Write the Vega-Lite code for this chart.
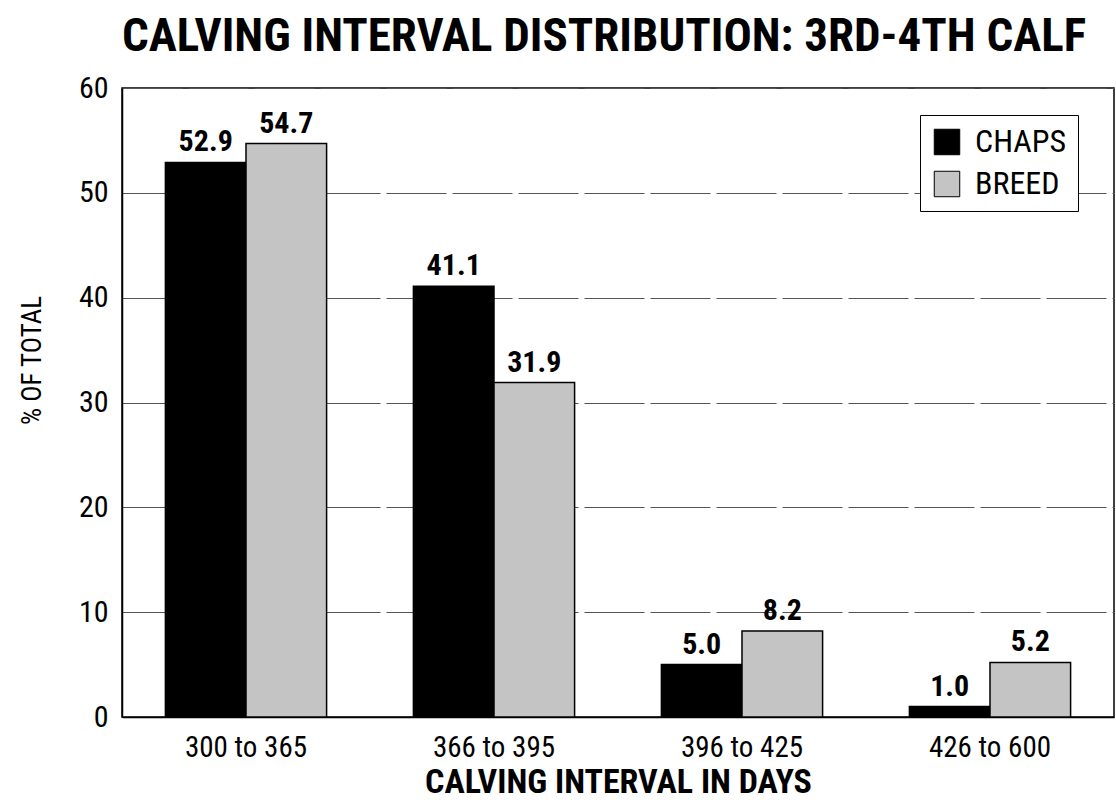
{
  "$schema": "https://vega.github.io/schema/vega-lite/v6.json",
  "autosize": "none",
  "width": 992,
  "height": 629,
  "padding": {"left": 122, "top": 88, "right": 2, "bottom": 91},
  "background": "white",
  "config": {
    "font": "Liberation Sans Narrow, Roboto Condensed, Liberation Sans, Arial",
    "view": {"stroke": "black", "strokeWidth": 1.5}
  },
  "title": {
    "text": "CALVING INTERVAL DISTRIBUTION:  3RD-4TH CALF",
    "fontSize": 47,
    "fontWeight": "bold",
    "color": "black",
    "anchor": "middle",
    "frame": "group",
    "offset": 12,
    "dx": -14
  },
  "data": {
    "values": [
      {"interval": "300 to 365", "group": "CHAPS", "pct": 52.9},
      {"interval": "300 to 365", "group": "BREED", "pct": 54.7},
      {"interval": "366 to 395", "group": "CHAPS", "pct": 41.1},
      {"interval": "366 to 395", "group": "BREED", "pct": 31.9},
      {"interval": "396 to 425", "group": "CHAPS", "pct": 5.0},
      {"interval": "396 to 425", "group": "BREED", "pct": 8.2},
      {"interval": "426 to 600", "group": "CHAPS", "pct": 1.0},
      {"interval": "426 to 600", "group": "BREED", "pct": 5.2}
    ]
  },
  "encoding": {
    "x": {
      "field": "interval",
      "type": "nominal",
      "sort": null,
      "scale": {"paddingInner": 0.35, "paddingOuter": 0.175},
      "axis": {
        "title": "CALVING INTERVAL IN DAYS",
        "titleFontSize": 34,
        "titleFontWeight": "bold",
        "titleColor": "black",
        "titlePadding": 3,
        "labelAngle": 0,
        "labelFontSize": 29,
        "labelColor": "black",
        "labelPadding": 16,
        "domainColor": "black",
        "domainWidth": 1.5,
        "ticks": false
      }
    },
    "xOffset": {"field": "group", "type": "nominal", "sort": ["CHAPS", "BREED"]},
    "y": {
      "field": "pct",
      "type": "quantitative",
      "scale": {"domain": [0, 60]},
      "axis": {
        "title": "% OF TOTAL",
        "titleFontSize": 27,
        "titleFontWeight": "normal",
        "titleColor": "black",
        "titleY": 272,
        "titleX": -90,
        "titleAlign": "center",
        "titleAngle": -90,
        "titleBaseline": "middle",
        "values": [0, 10, 20, 30, 40, 50, 60],
        "labelFontSize": 30,
        "labelColor": "black",
        "labelPadding": 14,
        "domainColor": "black",
        "domainWidth": 1.5,
        "ticks": false,
        "grid": true,
        "gridColor": "#555555",
        "gridDash": [60, 6],
        "gridWidth": 1
      }
    }
  },
  "layer": [
    {
      "mark": {"type": "bar", "stroke": "black", "strokeWidth": 1.5},
      "encoding": {
        "color": {
          "field": "group",
          "type": "nominal",
          "sort": ["CHAPS", "BREED"],
          "scale": {"domain": ["CHAPS", "BREED"], "range": ["#000000", "#c4c4c4"]},
          "legend": {
            "title": null,
            "orient": "none",
            "legendX": 798,
            "legendY": 27,
            "symbolType": "square",
            "symbolSize": 650,
            "symbolStrokeColor": "black",
            "symbolStrokeWidth": 1,
            "labelFontSize": 32,
            "labelColor": "black",
            "labelOffset": 12,
            "rowPadding": 10,
            "fillColor": "white",
            "strokeColor": "black",
            "padding": 11
          }
        }
      }
    },
    {
      "mark": {"type": "text", "baseline": "bottom", "dy": -5, "fontSize": 30, "fontWeight": "bold", "color": "black"},
      "encoding": {
        "text": {"field": "pct", "type": "quantitative", "format": ".1f"}
      }
    }
  ]
}
